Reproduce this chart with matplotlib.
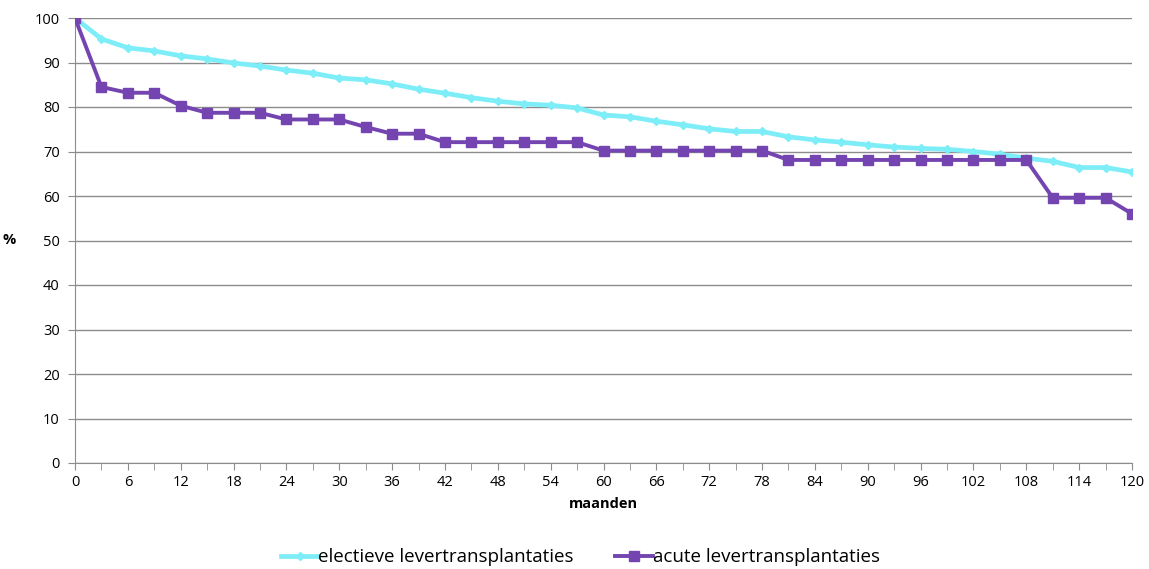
import numpy as np
import matplotlib
matplotlib.use('Agg')
import matplotlib.pyplot as plt

plt.rcParams['font.family'] = ['Open Sans', 'DejaVu Sans']

maanden = list(range(0, 121, 3))

electief = [100, 95.3, 93.3, 92.6, 91.5, 90.8, 89.9, 89.2, 88.3, 87.6,
            86.5, 86.1, 85.2, 84.0, 83.1, 82.1, 81.3, 80.7, 80.4, 79.8,
            78.2, 77.8, 76.8, 76.0, 75.1, 74.5, 74.5, 73.3, 72.6, 72.1,
            71.5, 71.0, 70.7, 70.5, 70.0, 69.4, 68.5, 67.8, 66.4, 66.4,
            65.4]

acuut = [100, 84.5, 83.2, 83.2, 80.3, 78.7, 78.7, 78.7, 77.2, 77.2,
         77.2, 75.5, 74.0, 74.0, 72.1, 72.1, 72.1, 72.1, 72.1, 72.1,
         70.2, 70.2, 70.2, 70.2, 70.2, 70.2, 70.2, 68.1, 68.1, 68.1,
         68.1, 68.1, 68.1, 68.1, 68.1, 68.1, 68.1, 59.6, 59.6, 59.6,
         56.0]

x_labels = list(range(0, 121, 6))
y_labels = list(range(0, 101, 10))

fig = plt.figure(figsize=(11.49, 5.69), dpi=100)
ax = fig.add_axes([75/1149, 1 - 463/569, (1132 - 75)/1149, (463 - 18)/569])

ax.plot(maanden, electief, color='#7DEEF8', lw=3.4, marker='D', ms=4.5,
        label='electieve levertransplantaties', zorder=3)
ax.plot(maanden, acuut, color='#7444B0', lw=2.8, marker='s', ms=7,
        label='acute levertransplantaties', zorder=4)

ax.set_xlim(0, 120)
ax.set_ylim(0, 100)
ax.set_xticks(x_labels)
ax.set_xticks(maanden, minor=True)
ax.set_yticks(y_labels)
ax.grid(axis='y', color='#8c8c8c', lw=1)
ax.set_axisbelow(True)

for side in ['top', 'right']:
    ax.spines[side].set_visible(False)
for side in ['left', 'bottom']:
    ax.spines[side].set_color('#8c8c8c')

ax.tick_params(axis='both', which='both', color='#8c8c8c', direction='out',
               labelsize=10.5)
ax.tick_params(axis='x', which='major', length=5, pad=4)
ax.tick_params(axis='x', which='minor', length=5)
ax.tick_params(axis='y', length=5, pad=6)

ax.set_xlabel('maanden', fontweight='bold', fontsize=10.5, labelpad=5)
ax.set_ylabel('%', fontweight='bold', fontsize=10.5, rotation=0, labelpad=18, va='center')

fig.legend(loc='lower center', ncol=2, frameon=False, fontsize=13.5,
           bbox_to_anchor=(0.505, -0.025), handlelength=2.0, handletextpad=0.0,
           columnspacing=2.2)

fig.savefig('out.png', dpi=100)
